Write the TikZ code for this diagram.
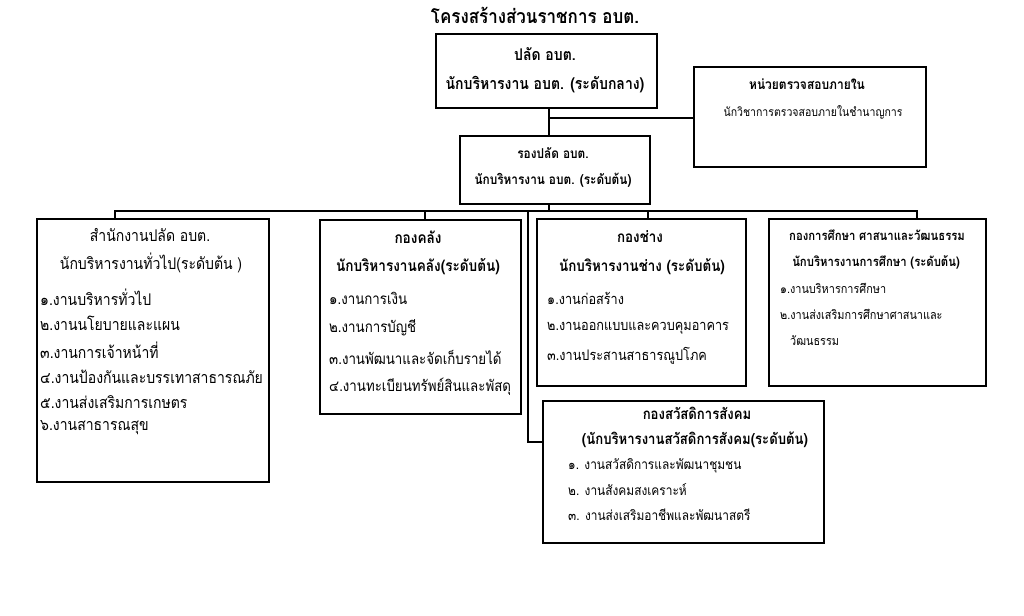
\documentclass[tikz,border=0pt]{standalone}
\usepackage{fontspec}
\setmainfont[Script=Thai,FakeStretch=0.87]{Loma}
\begin{document}
\begin{tikzpicture}[x=1pt,y=-1pt,
  box/.style={draw, line width=1.6pt, rectangle, inner sep=0pt, anchor=north west},
  wire/.style={line width=1.3pt},
  ttl/.style={inner sep=0pt, font=\fontsize{19.5pt}{22pt}\selectfont\bfseries},
  hd/.style={inner sep=0pt, font=\fontsize{#1pt}{18pt}\selectfont\bfseries},
  hd/.default=16,
  tx/.style={inner sep=0pt, font=\fontsize{#1pt}{18pt}\selectfont},
  tx/.default=16,
  it/.style={inner sep=0pt, anchor=west, font=\fontsize{#1pt}{18pt}\selectfont},
  it/.default=16.1]
\useasboundingbox (0,0) rectangle (1024,615);
\fill[white] (0,0) rectangle (1024,615);

% title
\node[ttl] (title) at (535,15) {โครงสร้างส่วนราชการ อบต.};

% boxes
\node[box, minimum width=221pt, minimum height=74pt] (palad) at (435,33) {};
\node[box, minimum width=232pt, minimum height=100pt] (audit) at (693,66) {};
\node[box, minimum width=190pt, minimum height=68pt] (rong) at (459,135) {};
\node[box, minimum width=232pt, minimum height=263pt] (office) at (36,218) {};
\node[box, minimum width=201pt, minimum height=194pt] (finance) at (319,219) {};
\node[box, minimum width=209pt, minimum height=167pt] (works) at (536,218) {};
\node[box, minimum width=217pt, minimum height=167pt] (edu) at (768,218) {};
\node[box, minimum width=281pt, minimum height=142pt] (welfare) at (542,400) {};

% texts: palad
\node[hd=16.1] (p1) at (545,54) {ปลัด อบต.};
\node[hd=16.1] (p2) at (545,85) {นักบริหารงาน อบต. (ระดับกลาง)};
% audit
\node[hd=13.8] (a1) at (807,84) {หน่วยตรวจสอบภายใน};
\node[tx=12.1] (a2) at (813,112) {นักวิชาการตรวจสอบภายในชำนาญการ};
% rong
\node[hd=13.6] (r1) at (553,153) {รองปลัด อบต.};
\node[hd=13.6] (r2) at (553,180) {นักบริหารงาน อบต. (ระดับต้น)};
% office
\node[tx=16.1] (o1) at (150,235) {สำนักงานปลัด อบต.};
\node[tx=16.1] (o2) at (151,263) {นักบริหารงานทั่วไป(ระดับต้น )};
\node[it] (o3) at (40,297) {๑.งานบริหารทั่วไป};
\node[it] (o4) at (40,323) {๒.งานนโยบายและแผน};
\node[it] (o5) at (40,350) {๓.งานการเจ้าหน้าที่};
\node[it] (o6) at (40,377) {๔.งานป้องกันและบรรเทาสาธารณภัย};
\node[it] (o7) at (40,402) {๕.งานส่งเสริมการเกษตร};
\node[it] (o8) at (40,428) {๖.งานสาธารณสุข};
% finance
\node[hd=15.6] (f1) at (418,237) {กองคลัง};
\node[hd=15.6] (f2) at (418,267) {นักบริหารงานคลัง(ระดับต้น)};
\node[it=15.3] (f3) at (329,298) {๑.งานการเงิน};
\node[it=15.3] (f4) at (329,328) {๒.งานการบัญชี};
\node[it=15.3] (f5) at (329,357) {๓.งานพัฒนาและจัดเก็บรายได้};
\node[it=15.3] (f6) at (329,387) {๔.งานทะเบียนทรัพย์สินและพัสดุ};
% works
\node[hd=15.4] (w1) at (640,237) {กองช่าง};
\node[hd=15.4] (w2) at (642,267) {นักบริหารงานช่าง (ระดับต้น)};
\node[it=14.6] (w3) at (547,298) {๑.งานก่อสร้าง};
\node[it=14.6] (w4) at (547,328) {๒.งานออกแบบและควบคุมอาคาร};
\node[it=14.6] (w5) at (547,356) {๓.งานประสานสาธารณูปโภค};
% edu
\node[hd=13] (e1) at (877,235) {กองการศึกษา ศาสนาและวัฒนธรรม};
\node[hd=13] (e2) at (876,262) {นักบริหารงานการศึกษา (ระดับต้น)};
\node[it=12.5] (e3) at (780,288) {๑.งานบริหารการศึกษา};
\node[it=12.5] (e4) at (780,314) {๒.งานส่งเสริมการศึกษาศาสนาและ};
\node[it=12.5] (e5) at (790,341) {วัฒนธรรม};
% welfare
\node[hd=15.1] (s1) at (697,413) {กองสวัสดิการสังคม};
\node[hd=15.1] (s2) at (695,440) {(นักบริหารงานสวัสดิการสังคม(ระดับต้น)};
\node[it=13.7] (s3) at (568,466) {๑. งานสวัสดิการและพัฒนาชุมชน};
\node[it=13.7] (s4) at (568,490) {๒. งานสังคมสงเคราะห์};
\node[it=13.7] (s5) at (568,515) {๓. งานส่งเสริมอาชีพและพัฒนาสตรี};

% connectors
\coordinate (j1) at (549,118);
\coordinate (busL) at (115,211);
\coordinate (busR) at (917,211);
\coordinate (d2) at (425,211);
\coordinate (d3) at (648,211);
\coordinate (d4) at (528,211);
\coordinate (wj) at (528,442);
\draw[wire] (j1 |- palad.south) -- (j1 |- rong.north);
\draw[wire] (j1) -- (j1 -| audit.west);
\draw[wire] (j1 |- rong.south) -- (j1 |- busL);
\draw[wire] (busL |- office.north) -- (busL) -- (busR) -- (busR |- edu.north);
\draw[wire] (d2) -- (d2 |- finance.north);
\draw[wire] (d3) -- (d3 |- works.north);
\draw[wire] (d4) -- (wj) -- (wj -| welfare.west);
\end{tikzpicture}
\end{document}
